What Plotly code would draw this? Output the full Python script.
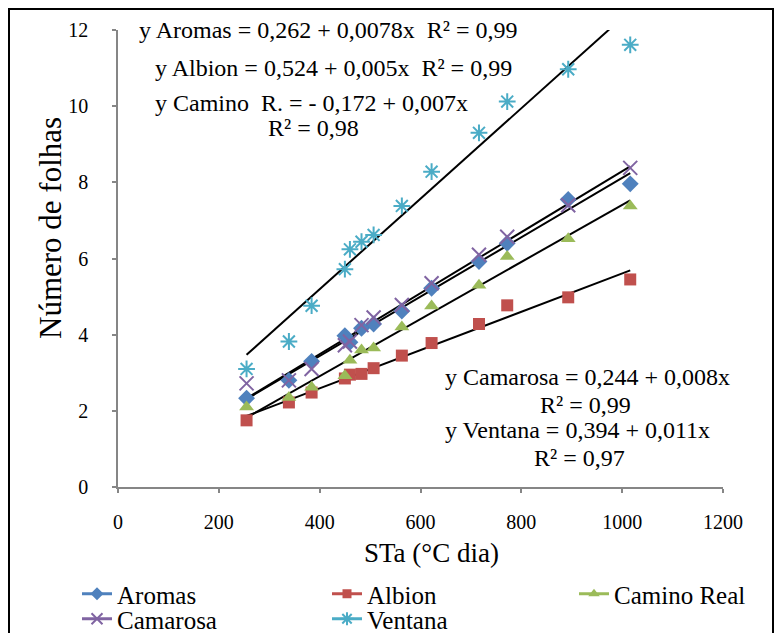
import numpy as np
import plotly.graph_objects as go

# ---- data ----
sta = [255, 339, 384, 450, 460, 483, 507, 563, 622, 716, 772, 893, 1016]
aromas = [2.33, 2.80, 3.30, 3.97, 3.80, 4.17, 4.28, 4.62, 5.22, 5.92, 6.40, 7.55, 7.96]
albion = [1.75, 2.22, 2.48, 2.85, 2.95, 2.97, 3.12, 3.45, 3.78, 4.28, 4.77, 4.98, 5.45]
camino_real = [2.10, 2.35, 2.62, 2.92, 3.33, 3.60, 3.65, 4.20, 4.75, 5.30, 6.05, 6.52, 7.38]
camarosa = [2.72, 2.80, 3.10, 3.72, 3.82, 4.25, 4.45, 4.78, 5.35, 6.10, 6.57, 7.40, 8.38]
ventana = [3.10, 3.82, 4.76, 5.72, 6.24, 6.44, 6.62, 7.38, 8.28, 9.30, 10.12, 10.97, 11.61]

series_names = ["Aromas", "Albion", "Camino Real", "Camarosa", "Ventana"]
equations = [
    "y Aromas = 0,262 + 0,0078x  R² = 0,99",
    "y Albion = 0,524 + 0,005x  R² = 0,99",
    "y Camino  R. = - 0,172 + 0,007x",
    "R² = 0,98",
    "y Camarosa = 0,244 + 0,008x",
    "R² = 0,99",
    "y Ventana = 0,394 + 0,011x",
    "R² = 0,97",
]
x_title = "STa (°C dia)"
y_title = "Número de folhas"

values = [aromas, albion, camino_real, camarosa, ventana]
colors = ["#4F81BD", "#C0504D", "#9BBB59", "#8064A2", "#4BACC6"]
symbols = ["diamond", "square", "triangle-up", "x-thin", "asterisk"]
sizes = [13, 12, 13, 14, 14]
legend_ids = ["legend", "legend", "legend3", "legend2", "legend2"]

FONT = "Liberation Serif, Times New Roman, serif"
W, H = 776, 625
L, R, T, B = 110, 715, 22, 479


def px(x):
    return (x - L) / (R - L)


def py(y):
    return (B - y) / (B - T)


fig = go.Figure()

# trend lines (least squares fit of each series)
xs = np.array(sta, dtype=float)
for vals in values:
    slope, icpt = np.polyfit(xs, np.array(vals), 1)
    xe = np.array([xs.min(), xs.max()])
    fig.add_trace(go.Scatter(x=xe, y=icpt + slope * xe, mode="lines",
                             line=dict(color="black", width=2),
                             showlegend=False, hoverinfo="skip"))

# markers
for name, vals, c, s, sz in zip(series_names, values, colors, symbols, sizes):
    is_line_sym = s in ("x-thin", "asterisk")
    marker = dict(symbol=s, size=sz, color=c,
                  line=dict(color=c, width=2 if is_line_sym else 0))
    fig.add_trace(go.Scatter(x=sta, y=vals, mode="markers", name=name,
                             marker=marker, showlegend=False, legendgroup=name))

# legend entries (line + marker, as in the reference legend)
for name, c, s, sz, lg in zip(series_names, colors, symbols, sizes, legend_ids):
    is_line_sym = s in ("x-thin", "asterisk")
    fig.add_trace(go.Scatter(x=[None], y=[None], mode="lines+markers", name=name,
                             legendgroup=name, legend=lg,
                             line=dict(color=c, width=3),
                             marker=dict(symbol=s, size=sz - 3, color=c,
                                         line=dict(color=c, width=2 if is_line_sym else 0))))

axis_common = dict(showgrid=False, zeroline=False, showline=True,
                   linecolor="#868686", linewidth=1.5, ticks="outside",
                   ticklen=4, tickcolor="#868686", tickwidth=1.5,
                   tickfont=dict(family=FONT, size=20, color="black"))

fig.update_xaxes(range=[0, 1200], dtick=200, ticklabelstandoff=12, **axis_common)
fig.update_yaxes(range=[0, 12], dtick=2, ticklabelstandoff=20, **axis_common)

ann = []
# equations
eq_pos = [(129, 22), (145, 60), (145, 95), (258, 120),
          (435, 369), (530, 397), (435, 422), (524, 450)]
for text, (ex, ey) in zip(equations, eq_pos):
    ann.append(dict(text=text, x=px(ex), y=py(ey), xref="paper", yref="paper",
                    xanchor="left", yanchor="middle", showarrow=False,
                    font=dict(family=FONT, size=24, color="black")))
# axis titles
ann.append(dict(text=x_title, x=px(423), y=py(545), xref="paper", yref="paper",
                xanchor="center", yanchor="middle", showarrow=False,
                font=dict(family=FONT, size=27, color="black")))
ann.append(dict(text=y_title, x=px(42), y=py(220), xref="paper", yref="paper",
                xanchor="center", yanchor="middle", showarrow=False, textangle=-90,
                font=dict(family=FONT, size=31, color="black")))

legend_common = dict(orientation="h", xref="paper", yref="paper",
                     xanchor="left", yanchor="middle",
                     font=dict(family=FONT, size=25, color="black"),
                     entrywidth=205, entrywidthmode="pixels",
                     bgcolor="rgba(0,0,0,0)", borderwidth=0, itemwidth=30)

fig.update_layout(
    width=W, height=H,
    font=dict(family=FONT, size=20, color="black"),
    margin=dict(l=L, r=W - R, t=T, b=H - B, pad=0, autoexpand=False),
    paper_bgcolor="white", plot_bgcolor="white",
    annotations=ann,
    showlegend=True,
    legend=dict(x=px(69), y=py(586), **legend_common),
    legend3=dict(x=px(566), y=py(586), **legend_common),
    legend2=dict(x=px(69), y=py(611), **legend_common),
    shapes=[dict(type="rect", xref="paper", yref="paper",
                 x0=px(1), x1=px(765), y0=py(660), y1=py(1),
                 line=dict(color="black", width=2), layer="below")],
)

fig.write_html("out.html")
